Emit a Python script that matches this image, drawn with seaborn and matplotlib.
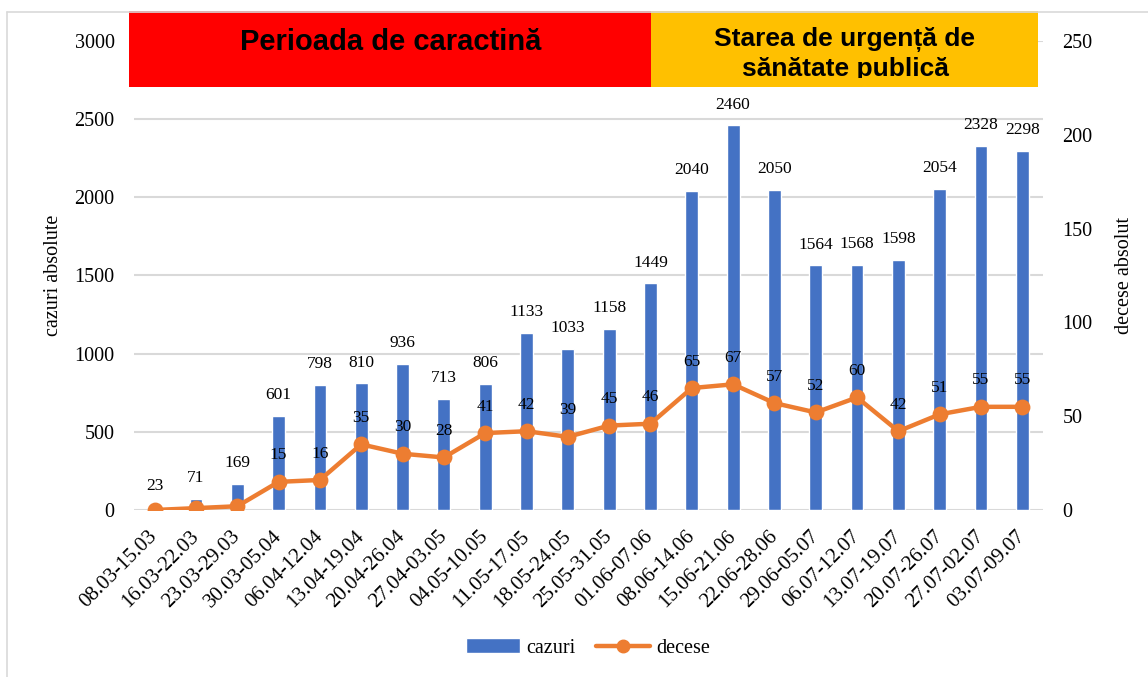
import numpy as np
import pandas as pd
import matplotlib
matplotlib.use("Agg")
import matplotlib.pyplot as plt
import seaborn as sns
from matplotlib.patches import Rectangle
from matplotlib.lines import Line2D

# weekly data
perioade = ["08.03-15.03", "16.03-22.03", "23.03-29.03", "30.03-05.04", "06.04-12.04",
            "13.04-19.04", "20.04-26.04", "27.04-03.05", "04.05-10.05", "11.05-17.05",
            "18.05-24.05", "25.05-31.05", "01.06-07.06", "08.06-14.06", "15.06-21.06",
            "22.06-28.06", "29.06-05.07", "06.07-12.07", "13.07-19.07", "20.07-26.07",
            "27.07-02.07", "03.07-09.07"]
cazuri = [23, 71, 169, 601, 798, 810, 936, 713, 806, 1133, 1033, 1158, 1449, 2040,
          2460, 2050, 1564, 1568, 1598, 2054, 2328, 2298]
decese = [0, 1, 2, 15, 16, 35, 30, 28, 41, 42, 39, 45, 46, 65, 67, 57, 52, 60, 42,
          51, 55, 55]
# first weeks have no death label in the source
decese_etichete = [None, None, None] + decese[3:]

left_ticks = [0, 500, 1000, 1500, 2000, 2500, 3000]
right_ticks = [0, 50, 100, 150, 200, 250]

df = pd.DataFrame({"perioada": perioade, "cazuri": cazuri, "decese": decese})

BLUE = "#4472C4"
ORANGE = "#ED7D31"
GRID = "#D9D9D9"

sns.set_style("white")
plt.rcParams["font.family"] = ["Liberation Serif", "DejaVu Serif"]
for k in ["text.color", "axes.labelcolor", "xtick.color", "ytick.color"]:
    plt.rcParams[k] = "black"

W, H = 1148, 677
fig = plt.figure(figsize=(W / 100, H / 100), dpi=100)
ax = fig.add_axes([134 / W, 1 - 510 / H, (1043 - 134) / W, (510 - 41) / H])

sns.barplot(data=df, x="perioada", y="cazuri", color=BLUE, width=0.31,
            saturation=1, ax=ax, zorder=2)
ax.set_ylim(0, 3000)
ax.set_yticks(left_ticks)
ax.yaxis.grid(True, color=GRID, linewidth=1.5, zorder=0)
ax.set_axisbelow(True)
for s in ax.spines.values():
    s.set_visible(False)
ax.tick_params(axis="y", length=0, pad=14, labelsize=14.5)
ax.tick_params(axis="x", length=0, pad=17, labelsize=15)
ax.set_xlabel("")
ax.set_ylabel("cazuri absolute", fontsize=14.5, labelpad=8)
plt.setp(ax.get_xticklabels(), rotation=45, ha="right", va="center",
         rotation_mode="anchor")

for i, v in enumerate(cazuri):
    ax.annotate(str(v), (i, v), xytext=(0, 15), textcoords="offset points",
                ha="center", va="center", fontsize=12.5)

ax2 = ax.twinx()
sns.pointplot(data=df, x="perioada", y="decese", color=ORANGE, markers="o",
              linewidth=3.2, markersize=9, ax=ax2)
ax2.set_ylim(0, 250)
ax2.set_xlim(ax.get_xlim())
ax2.set_yticks(right_ticks)
for s in ax2.spines.values():
    s.set_visible(False)
ax2.tick_params(axis="y", length=0, pad=14, labelsize=14.5)
ax2.set_ylabel("decese absolut", fontsize=14.5, labelpad=16)
ax2.set_xlabel("")

for i, v in enumerate(decese_etichete):
    if v is None:
        continue
    ax2.annotate(str(v), (i, v), xytext=(0, 19), textcoords="offset points",
                 ha="center", va="center", fontsize=12.5)

# period header boxes
hdr_font = ["Liberation Sans", "DejaVu Sans"]
red = Rectangle((129 / W, 1 - 87 / H), (651 - 129) / W, 76 / H,
                transform=fig.transFigure, facecolor="#FF0000", edgecolor="none")
yellow = Rectangle((651 / W, 1 - 87 / H), (1038 - 651) / W, 76 / H,
                   transform=fig.transFigure, facecolor="#FFC000", edgecolor="none")
fig.add_artist(red)
fig.add_artist(yellow)
fig.text(391 / W, 1 - 50 / H, "Perioada de caractină", ha="center", va="baseline",
         fontsize=21, fontweight="bold", family=hdr_font)
fig.text(845 / W, 1 - 46 / H, "Starea de urgență de", ha="center", va="baseline",
         fontsize=19, fontweight="bold", family=hdr_font)
t2 = fig.text(845 / W, 1 - 76 / H, "sănătate publică", ha="center", va="baseline",
              fontsize=19, fontweight="bold", family=hdr_font)
# the text box cuts the second line just under its baseline
clip = Rectangle((651 / W, 1 - 78 / H), (1038 - 651) / W, 67 / H,
                 transform=fig.transFigure, facecolor="none", edgecolor="none")
fig.add_artist(clip)
t2.set_clip_path(clip)

# light chart frame
fig.add_artist(Line2D([7 / W, 7 / W], [0, 1 - 12 / H], transform=fig.transFigure,
                      color=GRID, linewidth=1.2))
fig.add_artist(Line2D([7 / W, 1], [1 - 12 / H, 1 - 12 / H], transform=fig.transFigure,
                      color=GRID, linewidth=1.2))

handles = [Rectangle((0, 0), 1, 1, facecolor=BLUE),
           Line2D([], [], color=ORANGE, marker="o", linewidth=3.2, markersize=9)]
fig.legend(handles, ["cazuri", "decese"], loc="center",
           bbox_to_anchor=(588 / W, 1 - 648 / H), ncol=2, frameon=False,
           fontsize=14.5, handlelength=2.7, columnspacing=1.0, handletextpad=0.3)

fig.savefig("out.png", dpi=100)
